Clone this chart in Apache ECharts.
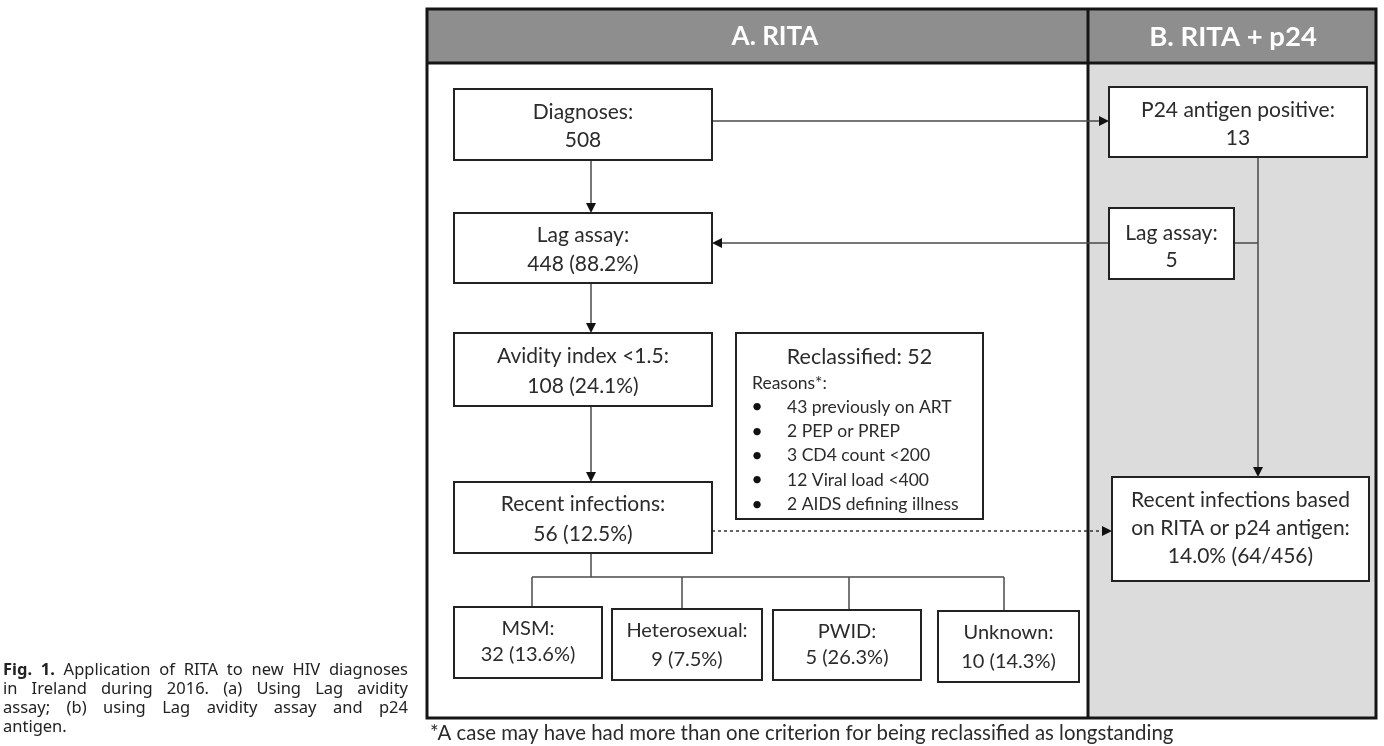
<!DOCTYPE html>
<html>
<head>
<meta charset="utf-8">
<script src="https://cdn.jsdelivr.net/npm/echarts@6/dist/echarts.min.js"></script>
<style>
html, body { margin: 0; padding: 0; background: #ffffff; }
#chart { width: 1384px; height: 746px; }
</style>
</head>
<body>
<div id="chart"></div>
<script>
// ---------------- data ----------------
const panelTitles = ['A. RITA', 'B. RITA + p24'];
const flowLabels = ['Diagnoses:', 'Lag assay:', 'Avidity index <1.5:', 'Recent infections:'];
const flowCounts = [508, 448, 108, 56];
const flowPercents = [null, 88.2, 24.1, 12.5];
const p24Labels = ['P24 antigen positive:', 'Lag assay:'];
const p24Counts = [13, 5];
const reclassifiedLabel = 'Reclassified:';
const reclassifiedCount = 52;
const reasonsHeading = 'Reasons*:';
const reasonCounts = [43, 2, 3, 12, 2];
const reasonLabels = ['previously on ART', 'PEP or PREP', 'CD4 count <200', 'Viral load <400', 'AIDS defining illness'];
const riskGroups = ['MSM:', 'Heterosexual:', 'PWID:', 'Unknown:'];
const riskCounts = [32, 9, 5, 10];
const riskPercents = [13.6, 7.5, 26.3, 14.3];
const combinedLabels = ['Recent infections based', 'on RITA or p24 antigen:'];
const combinedPercent = 14.0;
const combinedRecent = 64;
const combinedTotal = 456;
const footnote = '*A case may have had more than one criterion for being reclassified as longstanding';
const captionLines = [
  ['Fig. 1.', 'Application of RITA to new HIV diagnoses'],
  ['', 'in Ireland during 2016. (a) Using Lag avidity'],
  ['', 'assay; (b) using Lag avidity assay and p24'],
  ['', 'antigen.']
];

// ---------------- text builders ----------------
const fmtPct = (v) => v.toFixed(1) + '%';
const flowText = (i) => [flowLabels[i], flowPercents[i] == null ? String(flowCounts[i]) : flowCounts[i] + ' (' + fmtPct(flowPercents[i]) + ')'];
const riskText = (i) => [riskGroups[i], riskCounts[i] + ' (' + fmtPct(riskPercents[i]) + ')'];

// ---------------- layout (pixel units of the hidden axes) ----------------
const FONT = 'Lato';
const TEXT_COLOR = '#2b2b2b';
const frame = { x0: 427, y0: 9, x1: 1376, y1: 718, headerY: 63, divX: 1088 };
const headerPos = [[775, 37], [1233, 37]];

const nodes = [
  { box: [454, 89, 712, 160], lines: flowText(0), gap: 28, dy: 2, fs: 21 },
  { box: [454, 213, 712, 283], lines: flowText(1), gap: 29, dy: 2, fs: 21 },
  { box: [454, 333, 712, 406], lines: flowText(2), gap: 30, dy: 2, fs: 21 },
  { box: [454, 482, 712, 553], lines: flowText(3), gap: 30, dy: 2, fs: 21 },
  { box: [1109, 87, 1367, 157], lines: [p24Labels[0], String(p24Counts[0])], gap: 28, dy: 2, fs: 21 },
  { box: [1109, 208, 1234, 279], lines: [p24Labels[1], String(p24Counts[1])], gap: 27, dy: 3, fs: 21 },
  { box: [1112, 477, 1369, 581], lines: [combinedLabels[0], combinedLabels[1], fmtPct(combinedPercent) + ' (' + combinedRecent + '/' + combinedTotal + ')'], gap: 28, dy: -1, fs: 21 },
  { box: [454, 607, 602, 678], lines: riskText(0), gap: 26, dy: -1, fs: 20 },
  { box: [612, 609, 762, 680], lines: riskText(1), gap: 29, dy: 1, fs: 20 },
  { box: [773, 610, 921, 680], lines: riskText(2), gap: 26, dy: 0, fs: 20 },
  { box: [938, 611, 1079, 682], lines: riskText(3), gap: 29, dy: 1, fs: 20 }
];
const reclassBox = [736, 333, 983, 519];

// connectors: points, arrow at end?, dotted?
const connectors = [
  { pts: [[712, 121], [1109, 121]], arrow: true },
  { pts: [[591, 160], [591, 213]], arrow: true },
  { pts: [[591, 283], [591, 333]], arrow: true },
  { pts: [[591, 406], [591, 482]], arrow: true },
  { pts: [[1109, 243], [712, 243]], arrow: true },
  { pts: [[1234, 243], [1258, 243]], arrow: false },
  { pts: [[1258, 157], [1258, 477]], arrow: true },
  { pts: [[712, 531], [1112, 531]], arrow: true, dotted: true },
  { pts: [[591, 553], [591, 577]], arrow: false },
  { pts: [[532, 577], [1004, 577]], arrow: false },
  { pts: [[532, 577], [532, 607]], arrow: false },
  { pts: [[682, 577], [682, 609]], arrow: false },
  { pts: [[849, 577], [849, 610]], arrow: false },
  { pts: [[1004, 577], [1004, 611]], arrow: false }
];

// ---------------- rendering ----------------
const measureCtx = document.createElement('canvas').getContext('2d');
function textWidth(t, font) { measureCtx.font = font; return measureCtx.measureText(t).width; }

function renderFrame(params, api) {
  const c = (x, y) => api.coord([x, y]);
  const tl = c(frame.x0, frame.y0), br = c(frame.x1, frame.y1);
  const hb = c(frame.divX, frame.headerY);
  const children = [];
  children.push({ type: 'rect', shape: { x: tl[0], y: tl[1], width: br[0] - tl[0], height: hb[1] - tl[1] }, style: { fill: '#8e8e8e' } });
  children.push({ type: 'rect', shape: { x: hb[0], y: hb[1], width: br[0] - hb[0], height: br[1] - hb[1] }, style: { fill: '#dcdcdc' } });
  children.push({ type: 'rect', shape: { x: tl[0], y: tl[1], width: br[0] - tl[0], height: br[1] - tl[1] }, style: { fill: 'none', stroke: '#151515', lineWidth: 3 } });
  children.push({ type: 'line', shape: { x1: tl[0], y1: hb[1], x2: br[0], y2: hb[1] }, style: { stroke: '#151515', lineWidth: 3 } });
  children.push({ type: 'line', shape: { x1: hb[0], y1: tl[1], x2: hb[0], y2: br[1] }, style: { stroke: '#151515', lineWidth: 3 } });
  const headerSizes = [26, 27.5];
  panelTitles.forEach((t, i) => {
    const p = c(headerPos[i][0], headerPos[i][1]);
    children.push({ type: 'text', style: { text: t, x: p[0], y: p[1], align: 'center', verticalAlign: 'middle', fill: '#ffffff', fontFamily: FONT, fontWeight: 'bold', fontSize: headerSizes[i] } });
  });
  // footnote
  const fp = c(430, 733);
  children.push({ type: 'text', style: { text: footnote, x: fp[0], y: fp[1], align: 'left', verticalAlign: 'middle', fill: TEXT_COLOR, fontFamily: FONT, fontSize: 20.4 } });
  // caption (justified)
  const capX0 = 3, capX1 = 408, capY0 = 670, capDy = 19;
  const capFont = '"Noto Sans"', capSize = 16.5;
  captionLines.forEach((ln, li) => {
    const words = [];
    if (ln[0]) ln[0].split(' ').forEach(w => words.push({ w, bold: true }));
    ln[1].split(' ').forEach(w => words.push({ w, bold: false }));
    const widths = words.map(o => textWidth(o.w, (o.bold ? 'bold ' : '') + capSize + 'px ' + capFont));
    const total = widths.reduce((a, b) => a + b, 0);
    const last = li === captionLines.length - 1;
    const gap = last ? textWidth(' ', capSize + 'px ' + capFont) : (capX1 - capX0 - total) / (words.length - 1);
    let x = capX0;
    words.forEach((o, k) => {
      const p = c(x, capY0 + li * capDy);
      children.push({ type: 'text', style: { text: o.w, x: p[0], y: p[1], align: 'left', verticalAlign: 'middle', fill: '#222222', fontFamily: capFont.replace(/"/g, ''), fontWeight: o.bold ? 'bold' : 'normal', fontSize: capSize } });
      x += widths[k] + gap;
    });
  });
  return { type: 'group', children };
}

function renderConnector(params, api) {
  const cn = connectors[params.dataIndex];
  const pts = cn.pts.map(p => api.coord(p));
  const children = [];
  const AL = 10, AW = 5;
  let linePts = pts.slice();
  if (cn.arrow) {
    const a = pts[pts.length - 2], b = pts[pts.length - 1];
    const dx = b[0] - a[0], dy = b[1] - a[1];
    const len = Math.sqrt(dx * dx + dy * dy);
    const ux = dx / len, uy = dy / len;
    const base = [b[0] - ux * AL, b[1] - uy * AL];
    linePts[linePts.length - 1] = base;
    children.push({ type: 'polygon', shape: { points: [b, [base[0] - uy * AW, base[1] + ux * AW], [base[0] + uy * AW, base[1] - ux * AW]] }, style: { fill: '#111111' } });
  }
  children.unshift({ type: 'polyline', shape: { points: linePts }, style: { stroke: cn.dotted ? '#333333' : '#4a4a4a', lineWidth: cn.dotted ? 1.6 : 1.5, lineDash: cn.dotted ? [3, 3] : null, fill: null } });
  return { type: 'group', children };
}

function renderNode(params, api) {
  const n = nodes[params.dataIndex];
  const p0 = api.coord([n.box[0], n.box[1]]);
  const p1 = api.coord([n.box[2], n.box[3]]);
  const children = [{ type: 'rect', shape: { x: p0[0], y: p0[1], width: p1[0] - p0[0], height: p1[1] - p0[1] }, style: { fill: '#ffffff', stroke: '#222222', lineWidth: 2 } }];
  const cx = (p0[0] + p1[0]) / 2, cy = (p0[1] + p1[1]) / 2 + n.dy;
  n.lines.forEach((t, i) => {
    const y = cy + (i - (n.lines.length - 1) / 2) * n.gap;
    children.push({ type: 'text', style: { text: t, x: cx, y: y, align: 'center', verticalAlign: 'middle', fill: TEXT_COLOR, fontFamily: FONT, fontSize: n.fs } });
  });
  return { type: 'group', children };
}

function renderReclass(params, api) {
  const p0 = api.coord([reclassBox[0], reclassBox[1]]);
  const p1 = api.coord([reclassBox[2], reclassBox[3]]);
  const children = [{ type: 'rect', shape: { x: p0[0], y: p0[1], width: p1[0] - p0[0], height: p1[1] - p0[1] }, style: { fill: '#ffffff', stroke: '#222222', lineWidth: 2 } }];
  const t = api.coord([(reclassBox[0] + reclassBox[2]) / 2, 357]);
  children.push({ type: 'text', style: { text: reclassifiedLabel + ' ' + reclassifiedCount, x: t[0], y: t[1], align: 'center', verticalAlign: 'middle', fill: TEXT_COLOR, fontFamily: FONT, fontSize: 21.5 } });
  const h = api.coord([752, 383]);
  children.push({ type: 'text', style: { text: reasonsHeading, x: h[0], y: h[1], align: 'left', verticalAlign: 'middle', fill: TEXT_COLOR, fontFamily: FONT, fontSize: 17.5 } });
  reasonCounts.forEach((cnt, i) => {
    const y = 407 + i * 24.3;
    const b = api.coord([757, y]);
    children.push({ type: 'text', style: { text: '\u2022', x: b[0], y: b[1], align: 'center', verticalAlign: 'middle', fill: '#111111', fontFamily: FONT, fontSize: 20 } });
    const q = api.coord([787, y]);
    children.push({ type: 'text', style: { text: cnt + ' ' + reasonLabels[i], x: q[0], y: q[1], align: 'left', verticalAlign: 'middle', fill: TEXT_COLOR, fontFamily: FONT, fontSize: 17.5 } });
  });
  return { type: 'group', children };
}

const chart = echarts.init(document.getElementById('chart'), null, { renderer: 'canvas' });
chart.setOption({
  animation: false,
  backgroundColor: '#ffffff',
  grid: { left: 0, right: 0, top: 0, bottom: 0 },
  xAxis: { type: 'value', min: 0, max: 1384, show: false },
  yAxis: { type: 'value', min: 0, max: 746, inverse: true, show: false },
  series: [
    { type: 'custom', renderItem: renderFrame, data: [[0, 0]], z: 1, silent: true },
    { type: 'custom', renderItem: renderConnector, data: connectors.map((c, i) => [i, 0]), z: 2, silent: true },
    { type: 'custom', renderItem: renderNode, data: nodes.map((n, i) => [i, 0]), z: 3, silent: true },
    { type: 'custom', renderItem: renderReclass, data: [[0, 0]], z: 3, silent: true }
  ]
});
</script>
</body>
</html>
